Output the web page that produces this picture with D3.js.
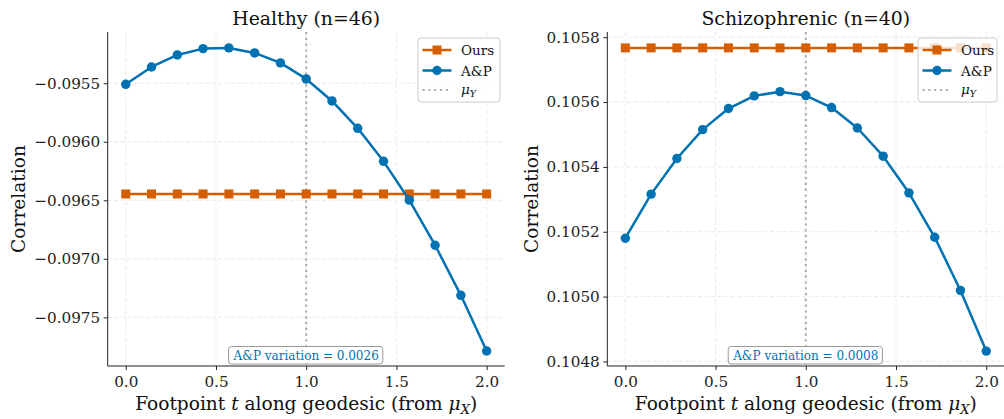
<!DOCTYPE html>
<html>
<head>
<meta charset="utf-8">
<script src="https://cdn.jsdelivr.net/npm/d3@7"></script>
<style>
  body { margin: 0; background: #fff; }
  svg { display: block; font-family: "DejaVu Serif", serif; }
</style>
</head>
<body>
<svg id="chart" width="1004" height="419"></svg>
<script>
// ---- data ----
const tValues = [0, 1/7, 2/7, 3/7, 4/7, 5/7, 6/7, 1, 8/7, 9/7, 10/7, 11/7, 12/7, 13/7, 2];
const xTicks = [0.0, 0.5, 1.0, 1.5, 2.0];

const healthyTitle = "Healthy (n=46)";
const healthyOurs = -0.096446;
const healthyAP = [-0.095509, -0.095361, -0.095258, -0.095204, -0.095198, -0.095241, -0.095326,
                   -0.095463, -0.095651, -0.095885, -0.096167, -0.096499, -0.096884, -0.097312, -0.097788];
const healthyYTicks = [-0.0955, -0.0960, -0.0965, -0.0970, -0.0975];
const healthyYDomain = [-0.097916, -0.095062];
const healthyVariation = "0.0026";

const schizTitle = "Schizophrenic (n=40)";
const schizOurs = 0.105767;
const schizAP = [0.105180, 0.105316, 0.105426, 0.105515, 0.105580, 0.105619, 0.105632,
                 0.105620, 0.105583, 0.105520, 0.105433, 0.105320, 0.105183, 0.105019, 0.104832];
const schizYTicks = [0.1048, 0.1050, 0.1052, 0.1054, 0.1056, 0.1058];
const schizYDomain = [0.104786, 0.105816];
const schizVariation = "0.0008";

const muY = 1.0;

// ---- style ----
const COL_OURS = "#D55E00";
const COL_AP = "#0072B2";
const svg = d3.select("#chart");

// measure text width to choose font sizes matching the reference
function sizeFor(str, targetWidth) {
  const t = svg.append("text").attr("font-size", 100).text(str);
  const w = t.node().getComputedTextLength();
  t.remove();
  return 100 * targetWidth / w;
}
const TICK_FS = sizeFor("\u22120.0955", 66);
const TITLE_FS = sizeFor("Healthy (n=46)", 148);
const YLABEL_FS = sizeFor("Correlation", 108);
const XLABEL_FS = sizeFor("Footpoint t along geodesic (from \u03bcX)", 346);
const ANN_FS = 12;
const LEG_FS = 13.5;

function drawPanel(opts) {
  const { left, right, top, bottom, title, ours, ap, yTicks, yDomain, variation, yFmt, legendX, legendW, ylabelOff } = opts;
  const x = d3.scaleLinear().domain([-0.1, 2.1]).range([left, right]);
  const y = d3.scaleLinear().domain(yDomain).range([bottom, top]);
  const g = svg.append("g");

  // grid
  g.selectAll(".gx").data(xTicks).join("line")
    .attr("x1", d => x(d)).attr("x2", d => x(d)).attr("y1", top).attr("y2", bottom)
    .attr("stroke", "#e3e3e3").attr("stroke-width", 0.8).attr("stroke-dasharray", "4,2.5");
  g.selectAll(".gy").data(yTicks).join("line")
    .attr("x1", left).attr("x2", right).attr("y1", d => y(d)).attr("y2", d => y(d))
    .attr("stroke", "#e3e3e3").attr("stroke-width", 0.8).attr("stroke-dasharray", "4,2.5");

  // mu_Y line
  g.append("line").attr("x1", x(muY)).attr("x2", x(muY)).attr("y1", top).attr("y2", bottom)
    .attr("stroke", "#b0b0b0").attr("stroke-width", 2.2).attr("stroke-dasharray", "2.2,3.6");

  // Ours
  const oursData = tValues.map(t => [t, ours]);
  const line = d3.line().x(d => x(d[0])).y(d => y(d[1]));
  g.append("path").datum(oursData).attr("d", line).attr("fill", "none")
    .attr("stroke", COL_OURS).attr("stroke-width", 2.5);
  g.selectAll(".sq").data(oursData).join("rect")
    .attr("x", d => x(d[0]) - 4.5).attr("y", d => y(d[1]) - 4.5)
    .attr("width", 9).attr("height", 9).attr("fill", COL_OURS);

  // A&P
  const apData = tValues.map((t, i) => [t, ap[i]]);
  g.append("path").datum(apData).attr("d", line).attr("fill", "none")
    .attr("stroke", COL_AP).attr("stroke-width", 2.5).attr("stroke-linejoin", "round");
  g.selectAll(".ci").data(apData).join("circle")
    .attr("cx", d => x(d[0])).attr("cy", d => y(d[1])).attr("r", 4.7).attr("fill", COL_AP);

  // axes
  const xAxis = d3.axisBottom(x).tickValues(xTicks).tickFormat(d3.format(".1f")).tickSize(4).tickPadding(6.5);
  const gx = g.append("g").attr("transform", `translate(0,${bottom})`).call(xAxis);
  gx.select(".domain").attr("d", `M${left},0H${right}`).attr("stroke", "#222").attr("stroke-width", 1);
  gx.selectAll(".tick line").attr("stroke", "#222");
  gx.selectAll("text").attr("font-family", "DejaVu Serif").attr("font-size", TICK_FS).attr("fill", "#222");

  const yAxis = d3.axisLeft(y).tickValues(yTicks).tickFormat(yFmt).tickSize(4).tickPadding(3.5);
  const gy = g.append("g").attr("transform", `translate(${left},0)`).call(yAxis);
  gy.select(".domain").attr("d", `M0,${top}V${bottom}`).attr("stroke", "#222").attr("stroke-width", 1);
  gy.selectAll(".tick line").attr("stroke", "#222");
  gy.selectAll("text").attr("font-family", "DejaVu Serif").attr("font-size", TICK_FS).attr("fill", "#222");

  // title
  g.append("text").attr("x", (left + right) / 2).attr("y", 25).attr("text-anchor", "middle")
    .attr("font-size", TITLE_FS).attr("fill", "#111").text(title);

  // y label
  g.append("text").attr("transform", `translate(${left - ylabelOff},${(top + bottom) / 2}) rotate(-90)`)
    .attr("text-anchor", "middle").attr("font-size", YLABEL_FS).attr("fill", "#111").text("Correlation");

  // x label
  const xl = g.append("text").attr("x", (left + right) / 2).attr("y", 409.5).attr("text-anchor", "middle")
    .attr("font-size", XLABEL_FS).attr("fill", "#111");
  xl.append("tspan").text("Footpoint ");
  xl.append("tspan").attr("font-style", "italic").text("t");
  xl.append("tspan").text(" along geodesic (from ");
  xl.append("tspan").attr("font-style", "italic").text("μ");
  xl.append("tspan").attr("font-style", "italic").attr("font-size", XLABEL_FS * 0.7).attr("dy", 4).text("X");
  xl.append("tspan").attr("dy", -4).text(")");

  // annotation
  const ann = g.append("g");
  const annText = ann.append("text").attr("x", x(1.0)).attr("y", 359.5).attr("text-anchor", "middle")
    .attr("font-size", ANN_FS).attr("fill", COL_AP).text("A&P variation = " + variation);
  const bb = annText.node().getBBox();
  ann.insert("rect", "text").attr("x", bb.x - 4).attr("y", 346.5).attr("width", bb.width + 8).attr("height", 17.5)
    .attr("rx", 3).attr("fill", "#fff").attr("fill-opacity", 0.85).attr("stroke", "#999").attr("stroke-width", 1);

  // legend
  const lg = g.append("g");
  lg.append("rect").attr("x", legendX).attr("y", 38).attr("width", legendW).attr("height", 64)
    .attr("rx", 3).attr("fill", "#fff").attr("fill-opacity", 0.8).attr("stroke", "#cccccc").attr("stroke-width", 1);
  const hx0 = legendX + 4.5, hx1 = legendX + 33.5, hc = (hx0 + hx1) / 2, tx = legendX + 43;
  const rows = [50, 70.5, 90];
  lg.append("line").attr("x1", hx0).attr("x2", hx1).attr("y1", rows[0]).attr("y2", rows[0])
    .attr("stroke", COL_OURS).attr("stroke-width", 2.5);
  lg.append("rect").attr("x", hc - 4.5).attr("y", rows[0] - 4.5).attr("width", 9).attr("height", 9).attr("fill", COL_OURS);
  lg.append("line").attr("x1", hx0).attr("x2", hx1).attr("y1", rows[1]).attr("y2", rows[1])
    .attr("stroke", COL_AP).attr("stroke-width", 2.5);
  lg.append("circle").attr("cx", hc).attr("cy", rows[1]).attr("r", 4.7).attr("fill", COL_AP);
  lg.append("line").attr("x1", hx0).attr("x2", hx1).attr("y1", rows[2]).attr("y2", rows[2])
    .attr("stroke", "#b0b0b0").attr("stroke-width", 2.2).attr("stroke-dasharray", "2.2,3.6");
  lg.append("text").attr("x", tx).attr("y", rows[0] + 5).attr("font-size", LEG_FS).attr("fill", "#111").text("Ours");
  lg.append("text").attr("x", tx).attr("y", rows[1] + 5).attr("font-size", LEG_FS).attr("fill", "#111").text("A&P");
  const mt = lg.append("text").attr("x", tx).attr("y", rows[2] + 4).attr("font-size", LEG_FS).attr("fill", "#111");
  mt.append("tspan").attr("font-style", "italic").text("μ");
  mt.append("tspan").attr("font-style", "italic").attr("font-size", 9.5).attr("dy", 3).text("Y");
}

const minusFmt = d => (d < 0 ? "\u2212" : "") + d3.format(".4f")(Math.abs(d));

drawPanel({ left: 107.7, right: 504.7, top: 32, bottom: 366, title: healthyTitle, ours: healthyOurs,
  ap: healthyAP, yTicks: healthyYTicks, yDomain: healthyYDomain, variation: healthyVariation,
  yFmt: minusFmt, legendX: 418, legendW: 82, ylabelOff: 83 });
drawPanel({ left: 607.3, right: 1004.3, top: 32, bottom: 366, title: schizTitle, ours: schizOurs,
  ap: schizAP, yTicks: schizYTicks, yDomain: schizYDomain, variation: schizVariation,
  yFmt: minusFmt, legendX: 918, legendW: 79, ylabelOff: 69.5 });
</script>
</body>
</html>
